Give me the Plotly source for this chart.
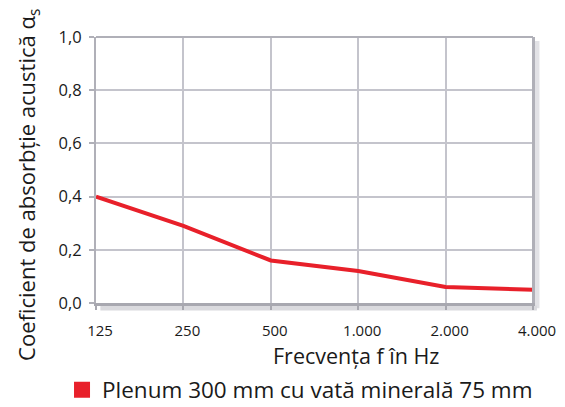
import plotly.graph_objects as go

freq_labels = ["125", "250", "500", "1.000", "2.000", "4.000"]
alpha_s = [0.40, 0.29, 0.16, 0.12, 0.06, 0.05]
y_ticks = [0.0, 0.2, 0.4, 0.6, 0.8, 1.0]
y_tick_labels = ["0,0", "0,2", "0,4", "0,6", "0,8", "1,0"]
series_name = "Plenum 300 mm cu vată minerală 75 mm"
x_title = "Frecvența f în Hz"
y_title = "Coeficient de absorbție acustică α<sub>s</sub>"

x_idx = list(range(len(freq_labels)))
FONT = "Open Sans"
RED = "#e8202a"
GRID = "#c4c4cc"
TXT = "#1a1a1a"

fig = go.Figure()
fig.add_trace(go.Scatter(
    x=x_idx, y=alpha_s, mode="lines",
    line=dict(color=RED, width=4),
    showlegend=False, hoverinfo="skip", cliponaxis=False,
))
fig.add_trace(go.Scatter(
    x=[None], y=[None], mode="markers", name=series_name,
    marker=dict(symbol="square", size=16, color=RED),
))

fig.update_layout(
    width=549, height=399,
    margin=dict(l=88, r=24, t=29, b=104),
    paper_bgcolor="white", plot_bgcolor="white",
    font=dict(family=FONT, color=TXT, size=16),
    xaxis=dict(
        range=[0, 5], tickmode="array", tickvals=x_idx, ticktext=freq_labels,
        showgrid=True, gridcolor=GRID, gridwidth=2,
        showline=True, linecolor="#a8a8b0", linewidth=3, mirror=False,
        ticks="outside", ticklen=4, tickcolor="#a8a8b0", tickwidth=2,
        ticklabelshift=4, ticklabelstandoff=8, ticklabeloverflow="allow",
        tickfont=dict(size=15),
        zeroline=False, automargin=False,
    ),
    yaxis=dict(
        range=[0, 1], tickmode="array", tickvals=y_ticks, ticktext=y_tick_labels,
        showgrid=True, gridcolor=GRID, gridwidth=2,
        showline=True, linecolor="#b0b0b8", linewidth=2, mirror=True,
        ticks="outside", ticklen=5, tickcolor="#b0b0b8", tickwidth=2,
        tickfont=dict(size=16.5), ticklabelstandoff=4,
        zeroline=False, automargin=False,
    ),
    legend=dict(
        orientation="h", xref="container", yref="container",
        x=0.0984, xanchor="left", y=0.0426, yanchor="middle",
        font=dict(size=22.5), itemwidth=30, tracegroupgap=0,
    ),
)
fig.add_annotation(text=x_title, xref="paper", yref="paper", x=0.595, y=-0.199,
                   xanchor="center", yanchor="middle", showarrow=False,
                   font=dict(size=21.5, color=TXT))
fig.add_annotation(text=y_title, xref="paper", yref="paper", x=-0.1556, y=0.444,
                   xanchor="center", yanchor="middle", textangle=-90, showarrow=False,
                   font=dict(size=22, color=TXT))
# soft frame shadow (right and bottom)
fig.add_shape(type="line", xref="paper", yref="paper", x0=1.009, x1=1.009, y0=-0.02, y1=0.985,
              line=dict(color="#e2e2e6", width=5), layer="below")
fig.add_shape(type="line", xref="paper", yref="paper", x0=0.01, x1=1.009, y0=-0.019, y1=-0.019,
              line=dict(color="#dadade", width=5), layer="below")
# frame top and right
fig.add_shape(type="line", xref="paper", yref="paper", x0=1, x1=1, y0=0, y1=1,
              line=dict(color="#b0b0b8", width=2))
fig.add_shape(type="line", xref="paper", yref="paper", x0=0, x1=1, y0=1, y1=1,
              line=dict(color="#b0b0b8", width=2))

fig.write_html("out.html")
